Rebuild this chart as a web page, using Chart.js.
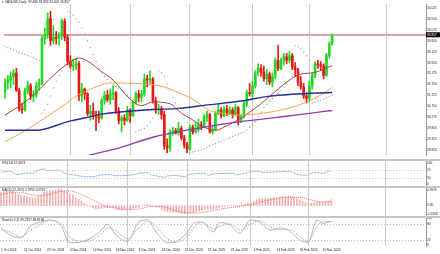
<!DOCTYPE html>
<html>
<head>
<meta charset="utf-8">
<script src="https://cdn.jsdelivr.net/npm/chart.js@4.4.1/dist/chart.umd.min.js"></script>
<style>
  html, body { margin: 0; padding: 0; background: #c6c6c6; }
  #wrap { position: relative; width: 440px; height: 254px; background: #c6c6c6; overflow: hidden; }
  canvas { position: absolute; left: 0; background: #fff; }
</style>
</head>
<body>
<div id="wrap">
  <canvas id="main" width="440" height="159" style="top:0px"></canvas>
  <canvas id="rsi" width="440" height="25" style="top:161px"></canvas>
  <canvas id="macd" width="440" height="28" style="top:188px"></canvas>
  <canvas id="stoch" width="440" height="36" style="top:218px"></canvas>
</div>
<script>
// XAGUSD daily bars, 1 Oct 2024 .. 13 Mar 2025 (bar index = position)
const opens = [31.40,31.80,31.90,32.05,32.20,31.45,30.65,30.60,31.45,31.65,
  31.20,31.25,31.65,31.75,33.70,33.85,34.55,33.60,33.75,33.70,
  33.80,34.45,33.75,32.70,32.50,32.55,32.60,31.20,31.50,31.30,
  30.45,30.55,30.35,30.30,30.25,31.00,31.25,31.05,31.30,31.35,
  30.55,30.15,30.25,30.15,30.60,30.35,30.95,31.30,31.15,31.30,
  31.95,31.90,31.95,31.00,30.60,30.65,30.40,29.05,28.95,29.65,
  29.70,29.60,29.80,29.40,29.10,28.90,29.85,29.65,29.75,29.95,
  29.90,30.30,30.40,29.65,29.75,30.45,30.60,30.35,30.65,30.45,
  30.60,30.40,30.70,30.15,30.30,30.85,31.35,31.30,31.65,32.20,
  32.40,32.25,31.95,32.15,31.80,32.05,32.75,32.40,32.75,32.90,
  32.75,32.95,32.45,32.35,31.80,31.60,31.20,31.10,31.65,32.10,
  32.60,32.55,32.50,32.10,32.95,33.486];
const highs = [31.95,32.10,32.25,32.35,32.40,31.55,30.90,31.55,31.85,31.75,
  31.45,31.80,31.95,33.80,34.15,34.80,34.87,34.25,34.00,33.95,
  34.55,34.55,33.85,32.95,32.80,32.85,32.70,31.75,31.55,31.35,
  30.80,30.90,30.55,30.55,31.10,31.40,31.45,31.50,31.65,31.40,
  30.70,30.35,30.40,30.75,30.65,31.00,31.40,31.45,31.45,32.15,
  32.10,32.30,32.00,31.15,30.85,30.75,30.55,29.35,29.75,29.85,
  29.80,30.05,29.90,29.50,29.20,29.95,29.95,30.05,30.20,30.10,
  30.40,30.55,30.45,29.90,30.55,30.85,30.70,30.75,30.80,30.75,
  30.70,30.85,30.75,30.40,30.95,31.45,31.75,31.85,32.30,32.60,
  32.55,32.50,32.35,32.25,32.20,32.85,33.40,32.85,33.05,33.05,
  33.15,33.05,32.65,32.40,32.05,31.75,31.35,31.85,32.20,32.70,
  32.75,32.70,32.60,33.05,33.55,33.893];
const lows = [31.10,31.50,31.55,31.70,31.40,30.55,30.45,30.55,31.30,31.05,
  30.95,31.15,31.45,31.70,33.45,33.70,33.40,33.45,33.45,33.40,
  33.65,33.60,32.55,32.40,32.30,32.35,31.00,30.95,31.05,30.35,
  30.15,30.20,29.70,30.05,30.20,30.85,30.95,30.85,31.05,30.45,
  30.00,29.65,29.95,30.10,30.05,30.30,30.85,30.95,30.95,31.20,
  31.60,31.75,30.90,30.45,30.40,30.20,28.90,28.75,28.80,29.50,
  29.55,29.50,29.30,28.95,28.75,28.85,29.55,29.60,29.65,29.75,
  29.85,30.10,29.60,29.55,29.70,30.40,30.25,30.30,30.35,30.40,
  30.25,30.35,29.95,30.05,30.25,30.75,31.20,31.10,31.55,32.10,
  32.05,31.85,31.70,31.70,31.60,31.95,32.30,32.35,32.55,32.60,
  32.65,32.35,32.05,31.65,31.50,31.10,30.90,30.95,31.50,32.00,
  32.40,32.30,31.95,32.05,32.85,33.409];
const closes = [31.80,31.90,32.05,32.20,31.45,30.65,30.60,31.45,31.65,31.20,
  31.25,31.65,31.75,33.70,33.85,34.55,33.60,33.75,33.70,33.80,
  34.45,33.75,32.70,32.50,32.55,32.60,31.20,31.50,31.30,30.45,
  30.55,30.35,30.30,30.25,31.00,31.25,31.05,31.30,31.35,30.55,
  30.15,30.25,30.15,30.60,30.35,30.95,31.30,31.15,31.30,31.95,
  31.90,31.95,31.00,30.60,30.65,30.40,29.05,28.95,29.65,29.70,
  29.60,29.80,29.40,29.10,28.90,29.85,29.65,29.75,29.95,29.90,
  30.30,30.40,29.65,29.75,30.45,30.60,30.35,30.65,30.45,30.60,
  30.40,30.70,30.15,30.30,30.85,31.35,31.30,31.65,32.20,32.40,
  32.25,31.95,32.15,31.80,32.05,32.75,32.40,32.75,32.90,32.75,
  32.95,32.45,32.35,31.80,31.60,31.20,31.10,31.65,32.10,32.60,
  32.55,32.50,32.10,32.95,33.45,33.857];

// parabolic SAR, one dot per bar
const psar = [33.35,33.30,33.25,33.20,33.15,33.10,33.05,33.00,32.95,32.90,32.85,32.80,32.75,
  30.45,30.60,30.85,31.20,31.55,31.85,32.10,32.30,32.55,
  34.87,34.82,34.70,34.55,34.40,34.15,33.90,33.60,33.30,33.00,32.70,32.40,32.20,32.05,31.92,31.80,31.70,31.62,31.55,31.45,31.35,31.25,31.15,
  31.05,29.65,29.70,29.75,29.80,29.92,30.08,30.25,30.45,
  32.30,32.20,32.05,31.75,31.45,31.15,30.90,30.65,30.45,30.25,30.05,
  28.75,28.78,28.80,28.83,28.87,28.92,28.98,29.05,29.10,29.15,29.20,29.25,29.30,29.35,29.40,29.45,29.50,29.55,29.60,29.65,
  29.75,29.85,29.95,30.10,30.30,30.50,30.70,30.85,31.00,31.10,31.20,31.30,31.45,31.60,31.75,31.90,32.05,
  33.40,33.35,33.25,33.10,32.95,32.75,
  30.90,30.93,30.97,31.02,31.07,31.12,31.18,31.25];

// moving averages as [bar, price]
const ma20 = [[0,30.38],[6,30.85],[11,31.36],[17,32.10],[22,32.60],[26,32.85],[29,32.72],[34,32.25],[38,31.90],
  [44,31.07],[48,30.79],[52,30.95],[58,30.87],[62,30.46],[66,30.17],[69,29.92],[74,29.72],[78,29.92],[83,30.25],
  [90,30.87],[95,31.40],[101,31.98],[104,32.15],[109,32.23],[115,32.52]];
const ma50 = [[0,29.22],[7,29.70],[14,30.25],[20,30.75],[25,31.20],[30,31.50],[34,31.69],[38,31.77],[45,31.75],
  [52,31.69],[56,31.60],[60,31.40],[66,31.07],[72,30.58],[77,30.45],[81,30.38],[90,30.45],[101,30.72],[107,31.00],
  [111,31.25],[115,31.57]];
const ma100 = [[0,29.72],[11,29.72],[23,30.13],[28,30.25],[34,30.42],[52,30.62],[60,30.66],[72,30.83],[83,30.99],
  [93,31.20],[101,31.28],[115,31.36]];
const ma200 = [[25,28.45],[29,28.62],[40,28.95],[52,29.42],[65,29.75],[80,30.05],[95,30.27],[105,30.42],[115,30.58]];

// oscillators
const rsi = [[0,58],[3,63],[5,50],[6,47],[8,54],[11,54],[13,68],[15,74],[16,66],[20,69],[21,64],[22,55],[26,44],
  [29,38],[32,37],[34,44],[38,47],[40,42],[44,43],[46,47],[49,56],[51,56],[52,47],[53,44],[56,36],[57,35],[58,41],
  [61,43],[64,37],[65,46],[71,53],[72,44],[75,52],[81,53],[82,46],[86,58],[89,64],[91,58],[96,60],[100,63],[103,50],
  [106,43],[109,57],[112,54],[115,67.47]];
const macdMain = [0.85,0.88,0.90,0.92,0.90,0.80,0.70,0.65,0.62,0.58,
  0.52,0.50,0.48,0.60,0.70,0.85,0.90,0.95,0.98,1.00,
  1.05,1.05,0.95,0.85,0.75,0.68,0.50,0.40,0.30,0.15,
  0.05,-0.05,-0.15,-0.22,-0.20,-0.17,-0.15,-0.13,-0.10,-0.15,
  -0.22,-0.27,-0.30,-0.28,-0.30,-0.25,-0.18,-0.14,-0.10,0.00,
  0.05,0.10,0.05,-0.02,-0.08,-0.12,-0.25,-0.35,-0.38,-0.40,
  -0.42,-0.42,-0.45,-0.50,-0.53,-0.50,-0.47,-0.44,-0.40,-0.36,
  -0.30,-0.24,-0.26,-0.27,-0.22,-0.16,-0.13,-0.08,-0.05,-0.02,
  -0.01,0.02,-0.02,-0.02,0.03,0.10,0.15,0.20,0.30,0.38,
  0.43,0.44,0.45,0.45,0.46,0.50,0.50,0.53,0.56,0.57,
  0.60,0.57,0.53,0.45,0.38,0.28,0.18,0.14,0.15,0.20,
  0.23,0.24,0.22,0.26,0.31,0.38];
const macdSignal = [[0,0.70],[4,0.82],[8,0.80],[12,0.65],[16,0.68],[20,0.88],[24,0.93],[28,0.70],[32,0.35],[36,0.00],
  [40,-0.16],[44,-0.24],[48,-0.22],[52,-0.06],[56,-0.05],[60,-0.28],[64,-0.44],[68,-0.47],[72,-0.38],[76,-0.24],
  [80,-0.12],[84,-0.03],[88,0.10],[92,0.30],[96,0.45],[100,0.53],[104,0.52],[108,0.36],[112,0.22],[115,0.276]];
const stochMain = [[0,65],[3,40],[7,28],[10,70],[14,87],[17,95],[21,70],[24,10],[30,20],[35,57],[37,78],[40,40],
  [44,15],[48,87],[51,95],[54,50],[58,10],[61,15],[65,50],[67,82],[70,87],[74,50],[76,85],[80,75],[83,45],[87,95],
  [90,87],[94,57],[97,65],[101,50],[104,20],[107,12],[110,95],[112,82],[115,89.24]];
const stochSignal = [[0,60],[3,50],[7,32],[10,55],[14,80],[17,92],[21,80],[24,30],[30,15],[35,45],[37,65],[40,55],
  [44,25],[48,65],[51,90],[54,70],[58,25],[61,12],[65,35],[67,65],[70,85],[74,62],[76,70],[80,80],[83,58],[87,80],
  [90,92],[94,68],[97,60],[101,58],[104,33],[107,15],[110,70],[112,88],[115,88.82]];

// axes
const priceTicks = [35.025,34.550,34.075,33.600,33.125,32.650,32.175,31.700,31.225,30.750,30.275,29.800,29.325,28.850];
const rsiTicks = [100, 70, 30, 0];
const macdTicks = [0.9976, 0, -0.5296];
const stochTicks = [100, 80, 20, 0];
const monthStarts = [23, 44, 65, 87, 107, 134];
const dateLabels = ['1 Oct 2024','11 Oct 2024','23 Oct 2024','4 Nov 2024','14 Nov 2024','26 Nov 2024','6 Dec 2024',
  '18 Dec 2024','31 Dec 2024','13 Jan 2025','23 Jan 2025','4 Feb 2025','14 Feb 2025','26 Feb 2025','10 Mar 2025'];
const DATE_STEP = 8;
const spread = 0.045;

const X_MIN = -0.35, X_MAX = 148;
const AXIS_W = 14;
const FAMILY = '"Liberation Sans", Arial, sans-serif';
const FS = 3.2;
const BULL = '#22d822', BEAR = '#e81818';

const xy = pairs => pairs.map(p => ({ x: p[0], y: p[1] }));
const last = closes.length - 1;

function gridAxis() {
  return {
    type: 'linear', min: X_MIN, max: X_MAX, offset: false,
    ticks: { display: false },
    grid: { color: '#cacaca', lineWidth: 1, drawTicks: false, offset: false },
    border: { display: false },
    afterBuildTicks: s => { s.ticks = monthStarts.map(v => ({ value: v })); },
    afterFit: s => { s.height = 0; s.paddingLeft = 0; s.paddingRight = 0; }
  };
}

function rightAxis(min, max, ticks, fmt) {
  return {
    type: 'linear', position: 'right', min, max,
    grid: { display: false, drawTicks: false },
    border: { display: true, color: '#9c9c9c', width: 1 },
    ticks: { font: { family: FAMILY, size: FS }, color: '#222', padding: 1, autoSkip: false, callback: fmt },
    afterBuildTicks: s => { s.ticks = ticks.map(v => ({ value: v })); },
    afterFit: s => { s.width = AXIS_W; s.paddingTop = 0; s.paddingBottom = 0; }
  };
}

const panelPlugin = {
  id: 'panel',
  beforeDatasetsDraw(chart, args, opts) {
    const ctx = chart.ctx, a = chart.chartArea, y = chart.scales.y;
    ctx.save();
    ctx.lineWidth = 1;
    ctx.setLineDash([1, 2]);
    ctx.strokeStyle = '#c4c4c4';
    (opts.levels || []).forEach(v => {
      const py = Math.round(y.getPixelForValue(v)) + 0.5;
      ctx.beginPath(); ctx.moveTo(a.left, py); ctx.lineTo(a.right, py); ctx.stroke();
    });
    ctx.setLineDash([]);
    if (opts.bid != null) {
      const by = Math.round(y.getPixelForValue(opts.bid)) + 0.5;
      const ay = Math.round(y.getPixelForValue(opts.bid + spread)) + 0.5;
      ctx.strokeStyle = '#bdbdbd';
      ctx.beginPath(); ctx.moveTo(a.left, by); ctx.lineTo(a.right, by); ctx.stroke();
      ctx.strokeStyle = '#f09090';
      ctx.beginPath(); ctx.moveTo(a.left, ay); ctx.lineTo(a.right, ay); ctx.stroke();
    }
    ctx.restore();
  },
  afterDraw(chart, args, opts) {
    const ctx = chart.ctx, a = chart.chartArea, y = chart.scales.y;
    ctx.save();
    ctx.font = FS + 'px ' + FAMILY;
    ctx.textBaseline = 'top';
    ctx.fillStyle = '#1a1a1a';
    if (opts.text) ctx.fillText(opts.text, 2, 1);
    if (opts.bid != null) {
      const by = y.getPixelForValue(opts.bid);
      ctx.fillStyle = '#000';
      ctx.fillRect(a.right, by - 2.5, chart.width - a.right, 5);
      ctx.fillStyle = '#fff';
      ctx.textBaseline = 'middle';
      ctx.fillText(opts.bid.toFixed(3), a.right + 1, by);
    }
    ctx.restore();
  }
};

const base = {
  responsive: false, animation: false, devicePixelRatio: 1, events: [],
  layout: { padding: 0 },
  plugins: { legend: { display: false }, tooltip: { enabled: false } }
};

function makeChart(id, datasets, yAxis, panelOpts, extraScales = {}) {
  return new Chart(document.getElementById(id), {
    type: 'line',
    data: { datasets },
    plugins: [panelPlugin],
    options: {
      ...base,
      plugins: { ...base.plugins, panel: panelOpts },
      scales: { x: gridAxis(), y: yAxis, ...extraScales }
    }
  });
}

// main price panel
const bodyColors = closes.map((c, i) => c >= opens[i] ? BULL : BEAR);
const line = (data, color, width, order) => ({
  type: 'line', data: xy(data), borderColor: color, borderWidth: width,
  pointRadius: 0, cubicInterpolationMode: 'monotone', order
});

makeChart('main', [
  { type: 'bar', data: closes.map((c, i) => ({ x: i, y: [lows[i], highs[i]] })),
    backgroundColor: bodyColors, barThickness: 1, grouped: false, order: 11 },
  { type: 'bar', data: closes.map((c, i) => ({ x: i, y: [opens[i], c] })),
    backgroundColor: bodyColors, barThickness: 2, minBarLength: 1, grouped: false, order: 10 },
  line(ma20, '#a5473a', 1, 4),
  line(ma50, '#f2a54a', 1, 3),
  line(ma100, '#2a2a9a', 1.4, 2),
  line(ma200, '#9a35b8', 1.4, 1),
  { type: 'line', data: psar.map((v, i) => ({ x: i, y: v })), showLine: false,
    pointRadius: 0.7, pointBorderWidth: 0, pointBackgroundColor: '#a6a6a6', order: 0 }
], rightAxis(28.65, 35.19, priceTicks, v => v.toFixed(3)), {
  text: '\u25BE XAGUSD,Daily  ' + [opens[last], highs[last], lows[last], closes[last]].map(v => v.toFixed(3)).join(' '),
  bid: closes[last]
});

// RSI
makeChart('rsi', [
  { type: 'line', data: xy(rsi), borderColor: '#9cc4ee', borderWidth: 1, pointRadius: 0, cubicInterpolationMode: 'monotone' }
], rightAxis(-7, 112, rsiTicks, v => String(v)), {
  text: 'RSI(14) 67.4673', levels: [70, 30]
});

// MACD
makeChart('macd', [
  { type: 'bar', data: macdMain.map((v, i) => ({ x: i, y: v })), backgroundColor: '#f2b0b0',
    barThickness: 1, grouped: false, order: 2 },
  { type: 'line', data: xy(macdSignal), borderColor: '#e07070', borderWidth: 1, borderDash: [1, 1],
    pointRadius: 0, cubicInterpolationMode: 'monotone', order: 1 }
], rightAxis(-0.66, 1.117, macdTicks, v => v === 0 ? '0.00' : v.toFixed(4)), {
  text: 'MACD(12,26,9) 0.3792 0.2762'
});

// Stochastic with date axis
makeChart('stoch', [
  { type: 'line', data: xy(stochMain), borderColor: '#b4b4b4', borderWidth: 1, pointRadius: 0, cubicInterpolationMode: 'monotone' },
  { type: 'line', data: xy(stochSignal), borderColor: '#a0a0a0', borderWidth: 1, borderDash: [1, 1], pointRadius: 0, cubicInterpolationMode: 'monotone' }
], rightAxis(-1.9, 101.9, stochTicks, v => String(v)), {
  text: 'Stoch(5,3,3) 89.2357 88.8166', levels: [80, 20]
}, {
  xd: {
    type: 'linear', position: 'bottom', min: X_MIN, max: X_MAX, offset: false,
    grid: { display: false, drawTicks: false }, border: { display: false },
    ticks: { font: { family: FAMILY, size: FS }, color: '#222', padding: 2, autoSkip: false,
      maxRotation: 0, minRotation: 0, align: 'start', callback: (v, i) => dateLabels[i] },
    afterBuildTicks: s => { s.ticks = dateLabels.map((d, k) => ({ value: k * DATE_STEP })); },
    afterFit: s => { s.height = 8; s.paddingLeft = 0; s.paddingRight = 0; }
  }
});
</script>
</body>
</html>
